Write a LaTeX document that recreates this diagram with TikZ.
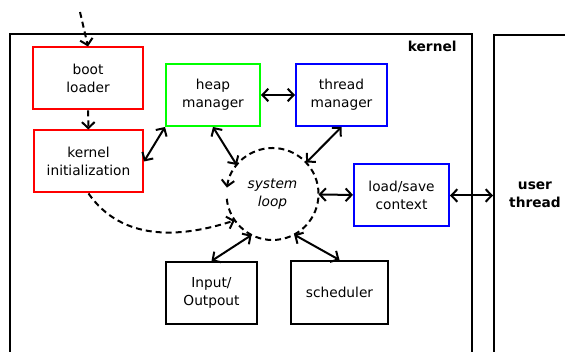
\documentclass[tikz,border=0pt]{standalone}
\usepackage{fontspec}
\setmainfont{DejaVu Sans}
\usetikzlibrary{arrows.meta}

\begin{document}
\begin{tikzpicture}[x=0.75pt,y=0.75pt,line width=1.5pt,
		>={Straight Barb[length=4.5pt,width=9.5pt]},
		every node/.style={font=\fontsize{10.3}{13.5}\selectfont,align=center},
		box/.style={draw,rectangle,minimum height=46.5pt},
		title/.style={font=\fontsize{10.3}{13.5}\selectfont\bfseries},
		flow/.style={dash pattern=on 4.5pt off 3pt}]
	    \useasboundingbox (0,0) rectangle (565,352);
	    \clip (0,0) rectangle (565,352);

	    \node[draw,minimum width=346.5pt,minimum height=246pt] (kernel) at (241,154) {};
	    \node[draw,minimum width=82.5pt,minimum height=245.25pt] (user) at (549,153.5) {};
	    \node[title,anchor=base east] (klabel) at (462,300) {kernel};
	    \node[title] (ulabel) at (535,157) {user\\thread};

	    \node[box,draw=red,minimum width=82.5pt] (boot) at (88,273.5) {boot\\loader};
	    \node[box,draw=red,minimum width=81.75pt] (kinit) at (88.5,190.5) {kernel\\initialization};
	    \node[box,draw=green,minimum width=70.5pt] (heap) at (213,257) {heap\\manager};
	    \node[box,draw=blue,minimum width=68.25pt] (thread) at (341.5,257) {thread\\manager};
	    \node[box,draw=blue,minimum width=71.25pt] (ctx) at (401.5,156.5) {load/save\\context};
	    \node[box,minimum width=68.25pt] (io) at (211.5,59) {Input/\\Outpout};
	    \node[box,minimum width=72.75pt,minimum height=47.25pt] (sched) at (339.5,59.5) {scheduler};
	    \node[circle,inner sep=0pt,outer sep=0pt,minimum size=69pt,
	          font=\fontsize{10.3}{13.5}\selectfont\itshape] (loop) at (272.5,158) {system\\loop};
	    \coordinate (entry) at (80,340);

	    % the loop itself
	    \draw[flow,->] (loop.186) arc[start angle=186, end angle=532, radius=34.5pt];

	    % start-up path
	    \draw[flow,->] (entry) -- (boot.north);
	    \draw[flow,->] (boot) -- (kinit);
	    \draw[flow,->] (kinit.south) to[out=-55,in=198] (loop.215);

	    \draw[<->] (kinit.east) -- (heap.south west);
	    \draw[<->] (heap) -- (thread);
	    \draw[<->] (heap.south) -- (loop.141);
	    \draw[<->] (thread.south) -- (loop.43);
	    \draw[<->] (loop) -- (ctx);
	    \draw[<->] (ctx.east) -- (ctx.east -| user.west);
	    \draw[<->] (loop.-117) -- (io.north);
	    \draw[<->] (loop.-62) -- (sched.north);
\end{tikzpicture}
\end{document}
